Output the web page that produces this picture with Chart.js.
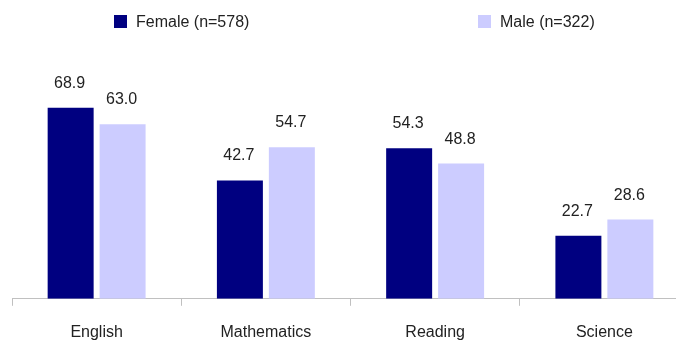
<!DOCTYPE html>
<html>
<head>
<meta charset="utf-8">
<script src="https://cdn.jsdelivr.net/npm/chart.js@4"></script>
<style>
  html, body { margin: 0; padding: 0; overflow: hidden; background: #fff; }
  /* chart area runs past the right edge of the window, like the original */
  #wrap { width: 700px; height: 345px; }
</style>
</head>
<body>
<div id="wrap"><canvas id="scoreChart"></canvas></div>
<script>
const subjects = ["English", "Mathematics", "Reading", "Science"];
const femaleScores = [68.9, 42.7, 54.3, 22.7];
const maleScores = [63.0, 54.7, 48.8, 28.6];
const seriesNames = ["Female (n=578)", "Male (n=322)"];

const FONT = '"Liberation Sans", Arial, sans-serif';
const TEXT = "#222222";

// legend drawn by hand so the two entries sit far apart
const spreadLegend = {
    id: "spreadLegend",
    afterDraw(chart) {
        const ctx = chart.ctx;
        const xs = [114, 478];
        ctx.save();
        ctx.font = "16px " + FONT;
        ctx.textBaseline = "alphabetic";
        ctx.textAlign = "left";
        chart.data.datasets.forEach((ds, i) => {
            ctx.fillStyle = ds.backgroundColor;
            ctx.fillRect(xs[i], 15, 13, 13);
            ctx.fillStyle = TEXT;
            ctx.fillText(ds.label, xs[i] + 22, 27);
        });
        ctx.restore();
    }
};

// value above each bar
const barValues = {
    id: "barValues",
    afterDatasetsDraw(chart) {
        const ctx = chart.ctx;
        ctx.save();
        ctx.font = "16px " + FONT;
        ctx.fillStyle = TEXT;
        ctx.textAlign = "center";
        ctx.textBaseline = "alphabetic";
        chart.data.datasets.forEach((ds, i) => {
            chart.getDatasetMeta(i).data.forEach((bar, j) => {
                ctx.fillText(ds.data[j].toFixed(1), bar.x - 1, bar.y - 20);
            });
        });
        ctx.restore();
    }
};

new Chart(document.getElementById("scoreChart"), {
    type: "bar",
    data: {
        labels: subjects,
        datasets: [
            {
                label: seriesNames[0],
                data: femaleScores,
                backgroundColor: "#000080",
                categoryPercentage: 0.614,
                barPercentage: 0.885
            },
            {
                label: seriesNames[1],
                data: maleScores,
                backgroundColor: "#CCCCFF",
                categoryPercentage: 0.614,
                barPercentage: 0.885
            }
        ]
    },
    options: {
        responsive: true,
        maintainAspectRatio: false,
        animation: false,
        layout: {
            padding: { top: 77, left: 12, right: 11, bottom: -14 }
        },
        plugins: {
            legend: { display: false },
            tooltip: { enabled: false }
        },
        scales: {
            x: {
                grid: {
                    offset: true,
                    drawOnChartArea: false,
                    drawTicks: true,
                    tickLength: 7,
                    color: "#C0C0C0"
                },
                border: { color: "#C0C0C0", width: 1 },
                ticks: {
                    color: TEXT,
                    padding: 17,
                    font: { family: FONT, size: 16 }
                }
            },
            y: {
                display: false,
                min: 0,
                max: 80
            }
        }
    },
    plugins: [spreadLegend, barValues]
});
</script>
</body>
</html>
